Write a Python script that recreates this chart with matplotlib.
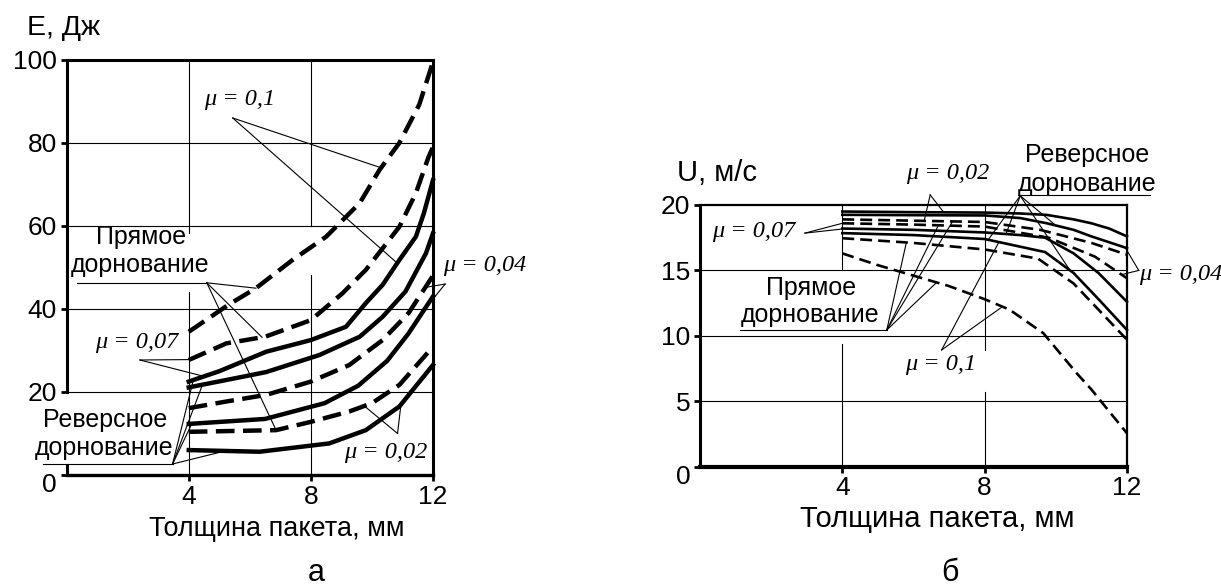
import numpy as np
import matplotlib.pyplot as plt
from matplotlib.transforms import ScaledTranslation

plt.rcParams["font.family"] = ["Liberation Sans", "DejaVu Sans"]

# ================== DATA: panel a (E, J) ==================
# dashed = direct drawing, solid = reverse drawing
a_x_A = [4, 5.3, 6.2, 7.4, 8.5, 9.6, 10.25, 10.9, 11.55, 12]
a_y_A = [34.5, 41, 45, 51.8, 57.4, 65.5, 73.5, 80, 89.2, 99.5]
a_x_B = [4, 5.23, 6.5, 8.0, 9.04, 9.8, 10.9, 11.44, 11.85, 12]
a_y_B = [27.7, 31.7, 33.3, 37.3, 43.8, 49.4, 59.8, 67.9, 76.5, 79]
a_x_C = [4, 5, 6.54, 8.0, 9.15, 9.8, 10.35, 10.9, 11.44, 11.7, 12]
a_y_C = [22.5, 25, 29.7, 32.5, 35.7, 41.4, 45.8, 51.8, 57.4, 63, 71]
a_x_D = [4, 5.45, 6.54, 8.28, 9.6, 10.35, 11.1, 11.77, 12]
a_y_D = [21.1, 23.2, 24.8, 28.9, 33.3, 38.1, 44.2, 53.4, 58.2]
a_x_E = [4, 5.23, 6.54, 8, 9.26, 10.35, 11.2, 12]
a_y_E = [16.1, 17.7, 19.3, 22.5, 26.5, 32.5, 39, 48]
a_x_F = [4, 6.5, 8.45, 9.55, 10.5, 11.2, 12]
a_y_F = [12.3, 13.5, 17.3, 21.5, 27.5, 34.1, 43]
a_x_G = [4, 6.86, 8, 9.26, 10.0, 10.9, 12]
a_y_G = [10.4, 10.8, 12.8, 15.3, 17.3, 21.7, 30.9]
a_x_H = [4, 6.32, 8.6, 9.8, 10.9, 12]
a_y_H = [6.0, 5.6, 7.6, 10.8, 16.5, 26.5]

# ================== DATA: panel б (U, m/s) ==================
b_x_S1 = [4, 6, 8, 9, 9.75, 10.5, 11, 11.5, 12]
b_y_S1 = [19.5, 19.45, 19.42, 19.35, 19.24, 18.9, 18.6, 18.2, 17.6]
b_x_S2 = [4, 6, 8, 9, 9.75, 10.5, 11, 12]
b_y_S2 = [19.25, 19.22, 19.2, 19.0, 18.6, 18.1, 17.6, 16.7]
b_x_D3 = [4, 6, 8, 9.56, 11, 12]
b_y_D3 = [18.9, 18.8, 18.7, 18.1, 17.1, 16.2]
b_x_D4 = [4, 6, 8, 9.8, 11.1, 12]
b_y_D4 = [18.6, 18.5, 18.35, 17.5, 16.05, 14.4]
b_x_S5 = [4, 6, 8, 9, 9.7, 10.5, 11.2, 12]
b_y_S5 = [18.2, 18.1, 17.9, 17.7, 17.5, 16.3, 14.8, 12.6]
b_x_S6 = [4, 6, 8, 9.7, 10.5, 11.2, 12]
b_y_S6 = [17.85, 17.7, 17.4, 16.4, 14.8, 12.8, 10.45]
b_x_D7 = [4, 6, 8, 9.5, 10.5, 11.2, 12]
b_y_D7 = [17.46, 17.1, 16.6, 15.9, 14.0, 12.0, 9.7]
b_x_D8 = [4, 5, 6, 7, 8, 8.7, 9.65, 10.6, 11.0, 12]
b_y_D8 = [16.3, 15.4, 14.6, 13.8, 12.8, 12.0, 10.2, 7.1, 5.9, 2.55]

a_xticks = [4, 8, 12]
a_yticks = [0, 20, 40, 60, 80, 100]
b_xticks = [4, 8, 12]
b_yticks = [0, 5, 10, 15, 20]

XLABEL = "Толщина пакета, мм"
MU_FONT = dict(family=["Liberation Serif", "DejaVu Serif"], style="italic", fontsize=17.5)
TXT_FONT = dict(fontsize=18)


def leader(ax, apex, targets):
    # thin pointer lines from a label to points on the curves
    for xs, ys, xt in targets:
        ax.plot([apex[0], xt], [apex[1], np.interp(xt, xs, ys)],
                color="black", lw=0.8, clip_on=False, zorder=4)


def frame(ax, xticks, yticks, lws):
    ax.set_xlim(0, 12)
    ax.set_ylim(yticks[0], yticks[-1])
    ax.set_xticks(xticks)
    ax.set_yticks(yticks)
    ax.tick_params(direction="out", length=4, width=2, labelsize=19, pad=3)
    for side, lw in lws.items():
        ax.spines[side].set_linewidth(lw)
    for y in yticks[1:-1]:
        ax.axhline(y, color="black", lw=0.8, zorder=1)
    # the "0" label sits a little lower than the axis
    lab0 = ax.get_yticklabels()[0]
    lab0.set_transform(lab0.get_transform() + ScaledTranslation(0, -0.08, fig.dpi_scale_trans))


fig = plt.figure(figsize=(12.21, 5.88), dpi=100)

# ================== PANEL a ==================
ax1 = fig.add_axes([0.0546, 0.1922, 0.3, 0.706])
frame(ax1, a_xticks, a_yticks, {"left": 2.2, "bottom": 2.4, "top": 2.2, "right": 2.2})
ax1.spines["left"].set_visible(False)
ax1.axvline(0, ymin=0, ymax=0.024, color="black", lw=2.2, clip_on=False)
ax1.axvline(0, ymin=0.2, ymax=1, color="black", lw=2.2, clip_on=False)
ax1.axvline(4, ymin=0, ymax=0.44, color="black", lw=0.8, zorder=1)
ax1.axvline(4, ymin=0.583, ymax=1, color="black", lw=0.8, zorder=1)
ax1.axvline(8, ymin=0, ymax=0.482, color="black", lw=0.8, zorder=1)
ax1.axvline(8, ymin=0.6, ymax=1, color="black", lw=0.8, zorder=1)

dash_a = (0, (4.2, 1.9))
for xs, ys in [(a_x_A, a_y_A), (a_x_B, a_y_B), (a_x_E, a_y_E), (a_x_G, a_y_G)]:
    ax1.plot(xs, ys, color="black", lw=3.2, linestyle=dash_a, zorder=3, clip_on=False)
for xs, ys in [(a_x_C, a_y_C), (a_x_D, a_y_D), (a_x_F, a_y_F), (a_x_H, a_y_H)]:
    ax1.plot(xs, ys, color="black", lw=3.2, zorder=3, clip_on=False)

ax1.text(5.66, 90.4, "μ = 0,1", ha="center", va="center", **MU_FONT)
leader(ax1, (5.44, 86), [(a_x_A, a_y_A, 10.3), (a_x_C, a_y_C, 10.83)])

ax1.text(2.43, 57.3, "Прямое", ha="center", va="center", **TXT_FONT)
ax1.text(2.41, 50.6, "дорнование", ha="center", va="center", **TXT_FONT)
ax1.plot([0.34, 4.59], [46.3, 46.3], color="black", lw=0.8)
leader(ax1, (4.59, 46.3), [(a_x_A, a_y_A, 6.2), (a_x_B, a_y_B, 6.4), (a_x_G, a_y_G, 6.86)])

ax1.text(2.3, 32, "μ = 0,07", ha="center", va="center", **MU_FONT)
leader(ax1, (2.4, 27.7), [(a_x_B, a_y_B, 4.03), (a_x_C, a_y_C, 4.5)])

ax1.text(1.25, 13.3, "Реверсное", ha="center", va="center", clip_on=False, **TXT_FONT)
ax1.text(1.24, 6.5, "дорнование", ha="center", va="center", clip_on=False, **TXT_FONT)
ax1.plot([-0.77, 3.47], [2.65, 2.65], color="black", lw=0.8, clip_on=False)
leader(ax1, (3.47, 2.65), [(a_x_C, a_y_C, 4.15), (a_x_D, a_y_D, 4.45),
                           (a_x_F, a_y_F, 4.1), (a_x_H, a_y_H, 5.2)])

ax1.text(10.44, 5.5, "μ = 0,02", ha="center", va="center", **MU_FONT)
leader(ax1, (10.84, 10.0), [(a_x_G, a_y_G, 9.75), (a_x_H, a_y_H, 10.95)])

ax1.text(13.7, 50.5, "μ = 0,04", ha="center", va="center", clip_on=False, **MU_FONT)
leader(ax1, (12.4, 46), [(a_x_E, a_y_E, 11.75), (a_x_F, a_y_F, 11.7)])

ax1.set_xlabel(XLABEL, fontsize=19.5, x=0.574, labelpad=5)
fig.text(27 / 1221, 1 - 28 / 588, "E, Дж", fontsize=20.5, ha="left", va="center")
fig.text(316 / 1221, 1 - 573 / 588, "а", fontsize=22, ha="center", va="center")

# ================== PANEL б ==================
ax2 = fig.add_axes([0.5733, 0.2063, 0.3497, 0.4451])
frame(ax2, b_xticks, b_yticks, {"left": 2.2, "bottom": 3.0, "top": 1.6, "right": 1.6})
ax2.axvline(4, ymin=0.75, ymax=1, color="black", lw=0.8, zorder=1)
ax2.axvline(4, ymin=0, ymax=0.47, color="black", lw=0.8, zorder=1)
ax2.axvline(8, ymin=0.445, ymax=1, color="black", lw=0.8, zorder=1)
ax2.axvline(8, ymin=0, ymax=0.286, color="black", lw=0.8, zorder=1)

dash_b = (0, (4.5, 2.3))
for xs, ys in [(b_x_D3, b_y_D3), (b_x_D4, b_y_D4), (b_x_D7, b_y_D7), (b_x_D8, b_y_D8)]:
    ax2.plot(xs, ys, color="black", lw=1.9, linestyle=dash_b, zorder=3, clip_on=False)
for xs, ys in [(b_x_S1, b_y_S1), (b_x_S2, b_y_S2), (b_x_S5, b_y_S5), (b_x_S6, b_y_S6)]:
    ax2.plot(xs, ys, color="black", lw=1.9, zorder=3, clip_on=False)

ax2.text(1.52, 17.94, "μ = 0,07", ha="center", va="center", **MU_FONT)
leader(ax2, (2.95, 17.85), [(b_x_D4, b_y_D4, 4.0), (b_x_S5, b_y_S5, 4.1)])

ax2.text(6.96, 22.43, "μ = 0,02", ha="center", va="center", clip_on=False, **MU_FONT)
leader(ax2, (6.47, 20.77), [(b_x_D3, b_y_D3, 6.3), (b_x_S1, b_y_S1, 6.85)])

ax2.text(10.88, 23.8, "Реверсное", ha="center", va="center", clip_on=False, **TXT_FONT)
ax2.text(10.88, 21.6, "дорнование", ha="center", va="center", clip_on=False, **TXT_FONT)
ax2.plot([8.94, 12.65], [20.77, 20.77], color="black", lw=0.8, clip_on=False)
leader(ax2, (9.0, 20.7), [(b_x_S6, b_y_S6, 8.1), (b_x_S5, b_y_S5, 8.6),
                          (b_x_S2, b_y_S2, 10.0), (b_x_S6, b_y_S6, 10.4)])

ax2.text(3.12, 13.64, "Прямое", ha="center", va="center", **TXT_FONT)
ax2.text(3.09, 11.6, "дорнование", ha="center", va="center", **TXT_FONT)
ax2.plot([1.12, 5.25], [10.45, 10.45], color="black", lw=0.8)
leader(ax2, (5.25, 10.45), [(b_x_D7, b_y_D7, 5.8), (b_x_D4, b_y_D4, 6.7),
                            (b_x_D3, b_y_D3, 7.1), (b_x_D8, b_y_D8, 6.65)])

ax2.text(13.5, 14.65, "μ = 0,04", ha="center", va="center", clip_on=False, **MU_FONT)
leader(ax2, (12.33, 15.0), [(b_x_D4, b_y_D4, 11.85), (b_x_S2, b_y_S2, 11.95)])

ax2.text(6.75, 7.78, "μ = 0,1", ha="center", va="center", **MU_FONT)
leader(ax2, (6.79, 8.92), [(b_x_D8, b_y_D8, 8.5), (b_x_S6, b_y_S6, 8.4)])

ax2.set_xlabel(XLABEL, fontsize=21, x=0.555, labelpad=3)
fig.text(677 / 1221, 1 - 173 / 588, "U, м/с", fontsize=21, ha="left", va="center")
fig.text(950 / 1221, 1 - 573 / 588, "б", fontsize=22, ha="center", va="center")

fig.savefig("out.png", dpi=100)
